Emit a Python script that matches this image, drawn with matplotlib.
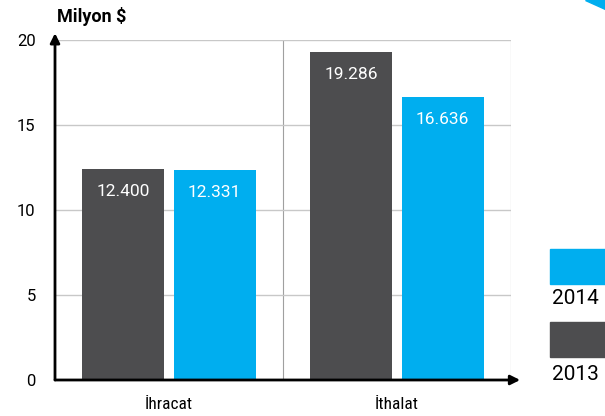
import numpy as np
import matplotlib
matplotlib.use("agg")
import matplotlib.pyplot as plt
from matplotlib.patches import Polygon, Rectangle

plt.rcParams["font.family"] = ["Roboto", "DejaVu Sans"]

CATEGORIES = ["İhracat", "İthalat"]
YEARS = ["2013", "2014"]
VALUES_2013 = [12.400, 19.286]
VALUES_2014 = [12.331, 16.636]
COLORS = {"2013": "#4d4d4f", "2014": "#00aeef"}

fig = plt.figure(figsize=(6.05, 4.16), dpi=100)
ax = fig.add_axes([55 / 605, 36 / 416, 456 / 605, 340 / 416])

x = np.arange(len(CATEGORIES))
w = 0.36
for vals, yr, off in [(VALUES_2013, "2013", -0.2), (VALUES_2014, "2014", 0.2)]:
	bars = ax.bar(x + off, vals, width=w, color=COLORS[yr], zorder=3)
	for b, v in zip(bars, vals):
		ax.text(b.get_x() + b.get_width() / 2, v - 1.3, "{:.3f}".format(v),
			ha="center", va="center", color="white", fontsize=12.5, zorder=4)

ax.set_xlim(-0.5, 1.5)
ax.set_ylim(0, 20)
ax.set_yticks([0, 5, 10, 15, 20])
ax.set_xticks(x)
ax.set_xticklabels(CATEGORIES, fontsize=12.5,
	family=["Roboto Condensed", "Liberation Sans Narrow", "Roboto", "DejaVu Sans"])
ax.tick_params(axis="y", length=0, labelsize=12, pad=14)
ax.tick_params(axis="x", length=0, pad=12)
ax.grid(axis="y", color="#c8c8c8", linewidth=1, zorder=0)
for xv in [0.5, 1.5]:
	ax.axvline(xv, color="#a0a0a0", linewidth=0.8, zorder=0)
for s in ["top", "right", "left", "bottom"]:
	ax.spines[s].set_visible(False)

# axis arrows
ax.annotate("", xy=(1.54, 0), xytext=(-0.5, 0), xycoords="data",
	arrowprops=dict(arrowstyle="-|>", color="black", lw=2, mutation_scale=14,
		shrinkA=0, shrinkB=0), annotation_clip=False, zorder=5)
ax.annotate("", xy=(-0.5, 20.4), xytext=(-0.5, 0), xycoords="data",
	arrowprops=dict(arrowstyle="-|>", color="black", lw=2, mutation_scale=14,
		shrinkA=0, shrinkB=0), annotation_clip=False, zorder=5)

fig.text(57 / 605, 1 - 17 / 416, "Milyon $", fontsize=13, fontweight="bold",
	va="center", ha="left")

# legend blocks at the right edge
fig.patches.append(Rectangle((550 / 605, 1 - 284 / 416), 60 / 605, 35 / 416,
	transform=fig.transFigure, color=COLORS["2014"]))
fig.text(552 / 605, 1 - 299 / 416, "2014", fontsize=15, color="black",
	va="center", ha="left")
fig.patches.append(Rectangle((550 / 605, 1 - 357 / 416), 60 / 605, 35 / 416,
	transform=fig.transFigure, color=COLORS["2013"]))
fig.text(552 / 605, 1 - 374 / 416, "2013", fontsize=15, color="black",
	va="center", ha="left")

# corner decoration
fig.patches.append(Polygon([(585 / 605, 1.0), (605 / 605, 1.0), (605 / 605, 1 - 9 / 416)],
	closed=True, transform=fig.transFigure, color=COLORS["2014"]))

plt.savefig("out.png", dpi=100)
